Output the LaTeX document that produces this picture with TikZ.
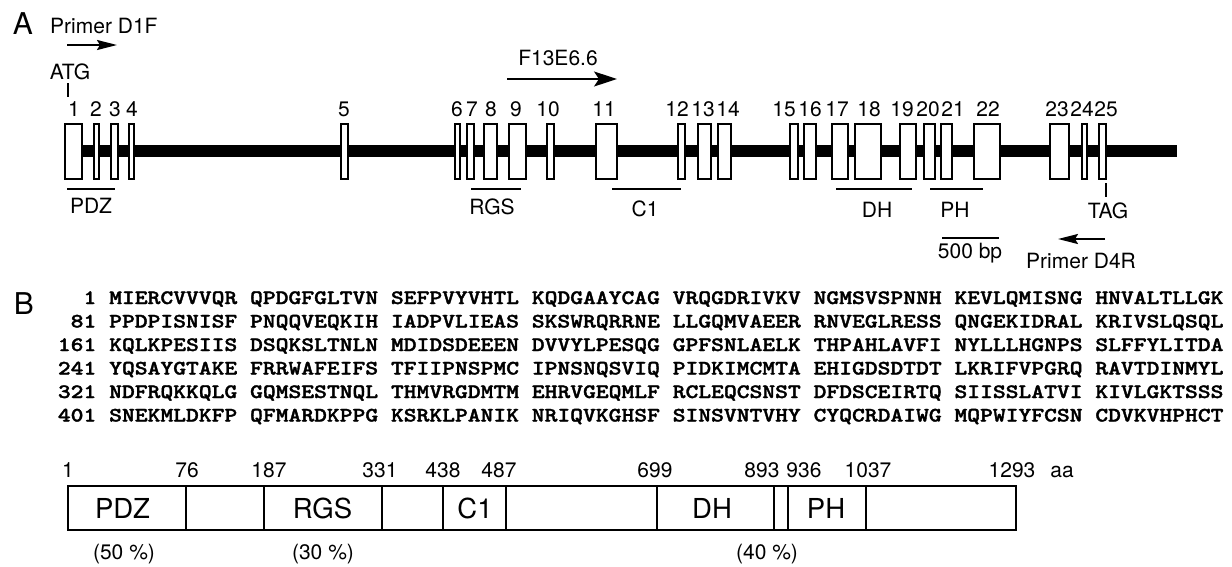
\documentclass[tikz,border=0pt]{standalone}
\usepackage{fontspec}
\setmainfont{TeX Gyre Heros}
\newfontfamily\seqfont{lmmonolt10-bold.otf}[FakeBold=1.5]
\usepackage{graphicx}
\usetikzlibrary{arrows.meta}
\tikzset{
  lbl/.style={inner sep=0pt, anchor=base, font=\fontsize{21}{21}\selectfont},
  big/.style={inner sep=0pt, anchor=base, font=\fontsize{30}{30}\selectfont},
  exonbox/.style={draw, fill=white, line width=2pt, inner sep=0pt, minimum height=55pt},
  uline/.style={line width=2pt},
  tick/.style={line width=1.5pt},
  seqtxt/.style={inner sep=0pt, anchor=base west},
  seqnum/.style={inner sep=0pt, anchor=base east},
  barline/.style={line width=2pt},
  barnum/.style={inner sep=0pt, anchor=base, font=\fontsize{21}{21}\selectfont},
  domtxt/.style={inner sep=0pt, anchor=base, font=\fontsize{27.5}{27.5}\selectfont},
  pct/.style={inner sep=0pt, anchor=base, font=\fontsize{21}{21}\selectfont},
}
\newcommand{\seqtext}[1]{\scalebox{1.19}[1]{\fontsize{20.5}{20.5}\selectfont\seqfont #1}}
\begin{document}
\begin{tikzpicture}[x=1pt,y=-1pt]
\fill[white] (0,0) rectangle (1232,566);
\useasboundingbox (0,0) rectangle (1232,566);

% ---------- Panel A ----------
\node[big] (A) at (23,34) {A};
\node[lbl, anchor=base west] (d1f) at (50,33) {Primer D1F};
\coordinate (d1fs) at (67,45);
\coordinate (d1fe) at (117,45);
\draw[line width=2pt, -{Stealth[length=20pt,width=10pt,inset=3pt]}] (d1fs) -- (d1fe);
\node[lbl] (atg) at (70,79) {ATG};
\coordinate (atgt1) at (68,83);
\coordinate (atgt2) at (68,97);
\draw[tick] (atgt1) -- (atgt2);

\node[lbl] (f13) at (558,65) {F13E6.6};
\coordinate (f13s) at (507,79);
\coordinate (f13e) at (617,79);
\draw[line width=1.5pt, -{Stealth[length=23pt,width=15pt,inset=5pt]}] (f13s) -- (f13e);

% main gene line
\coordinate (gs) at (70,151);
\coordinate (ge) at (1177,151);
\draw[line width=12pt] (gs) -- (ge);

% exons
\foreach \n/\a/\b/\l in {1/64/83/74, 2/93/100/96, 3/110/119/115, 4/128/135/132,
  5/340/349/344, 6/454/461/457, 7/466/475/472, 8/483/498/491, 9/508/527/516,
  10/546/555/548, 11/595/618/604, 12/677/686/677, 13/697/712/703, 14/717/732/728,
  15/789/799/784, 16/803/817/810, 17/831/849/837, 18/854/882/869, 19/899/917/902,
  20/923/936/928, 21/940/953/953, 22/973/1001/988, 23/1049/1070/1057,
  24/1081/1088/1082, 25/1098/1107/1106}{
  \pgfmathsetmacro\w{\b-\a-2}
  \node[exonbox, minimum width=\w pt] (e\n) at ({(\a+\b)/2},151.5) {};
  \node[lbl] (l\n) at (\l,116) {\n};
}

% domain underlines
\coordinate (pdz1) at (67,189);  \coordinate (pdz2) at (115,189);
\coordinate (rgs1) at (471,189); \coordinate (rgs2) at (521,189);
\coordinate (c11) at (612,189);  \coordinate (c12) at (681,189);
\coordinate (dh1) at (836,189);  \coordinate (dh2) at (912,189);
\coordinate (ph1) at (930,189);  \coordinate (ph2) at (983,189);
\draw[uline] (pdz1) -- (pdz2);
\draw[uline] (rgs1) -- (rgs2);
\draw[uline] (c11) -- (c12);
\draw[uline] (dh1) -- (dh2);
\draw[uline] (ph1) -- (ph2);
\node[lbl] (tpdz) at (91,213) {PDZ};
\node[lbl] (trgs) at (492,214) {RGS};
\node[lbl] (tc1) at (645,216) {C1};
\node[lbl] (tdh) at (877,217) {DH};
\node[lbl] (tph) at (955,217) {PH};

% TAG
\coordinate (tag1) at (1106,183);
\coordinate (tag2) at (1106,197);
\draw[tick] (tag1) -- (tag2);
\node[lbl] (tag) at (1108,218) {TAG};

% scale bar
\coordinate (sb1) at (942,238);
\coordinate (sb2) at (999,238);
\draw[line width=2.5pt] (sb1) -- (sb2);
\node[lbl] (sbt) at (970,258) {500 bp};

% primer D4R
\coordinate (d4rs) at (1105,239);
\coordinate (d4re) at (1058,239);
\draw[line width=2pt, -{Stealth[length=20pt,width=10pt,inset=3pt]}] (d4rs) -- (d4re);
\node[lbl] (d4r) at (1081,268) {Primer D4R};

% ---------- Panel B ----------
\node[big] (B) at (24,314) {B};
\foreach \i/\num/\s in {
  0/1/MIERCVVVQR QPDGFGLTVN SEFPVYVHTL KQDGAAYCAG VRQGDRIVKV NGMSVSPNNH KEVLQMISNG HNVALTLLGK,
  1/81/PPDPISNISF PNQQVEQKIH IADPVLIEAS SKSWRQRRNE LLGQMVAEER RNVEGLRESS QNGEKIDRAL KRIVSLQSQL,
  2/161/KQLKPESIIS DSQKSLTNLN MDIDSDEEEN DVVYLPESQG GPFSNLAELK THPAHLAVFI NYLLLHGNPS SLFFYLITDA,
  3/241/YQSAYGTAKE FRRWAFEIFS TFIIPNSPMC IPNSNQSVIQ PIDKIMCMTA EHIGDSDTDT LKRIFVPGRQ RAVTDINMYL,
  4/321/NDFRQKKQLG GQMSESTNQL THMVRGDMTM EHRVGEQMLF RCLEQCSNST DFDSCEIRTQ SIISSLATVI KIVLGKTSSS,
  5/401/SNEKMLDKFP QFMARDKPPG KSRKLPANIK NRIQVKGHSF SINSVNTVHY CYQCRDAIWG MQPWIYFCSN CDVKVHPHCT}{
  \node[seqnum] (n\i) at (96.5,{304+23.5*\i}) {\seqtext{\num}};
  \node[seqtxt] (s\i) at (109,{304+23.5*\i}) {\seqtext{\s}};
}

% protein bar
\draw[barline] (68,486) rectangle (1016,530);
\foreach \x in {186,264,382,443,506,657,774,788,866}
  \draw[barline] (\x,486) -- (\x,530);
\foreach \t/\x in {1/68, 76/187, 187/269, 331/380, 438/443, 487/499, 699/655,
  893/762, 936/804, 1037/868, 1293/1012, aa/1062}
  \node[barnum] (b\t) at (\x,477) {\t};
\node[domtxt] (bpdz) at (122.5,518) {PDZ};
\node[domtxt] (brgs) at (322.5,518) {RGS};
\node[domtxt] (bc1) at (475,518) {C1};
\node[domtxt] (bdh) at (712,518) {DH};
\node[domtxt] (bph) at (826,518) {PH};
\node[pct] (p50) at (124,559) {(50 \%)};
\node[pct] (p30) at (323,559) {(30 \%)};
\node[pct] (p40) at (767,559) {(40 \%)};
\end{tikzpicture}
\end{document}
